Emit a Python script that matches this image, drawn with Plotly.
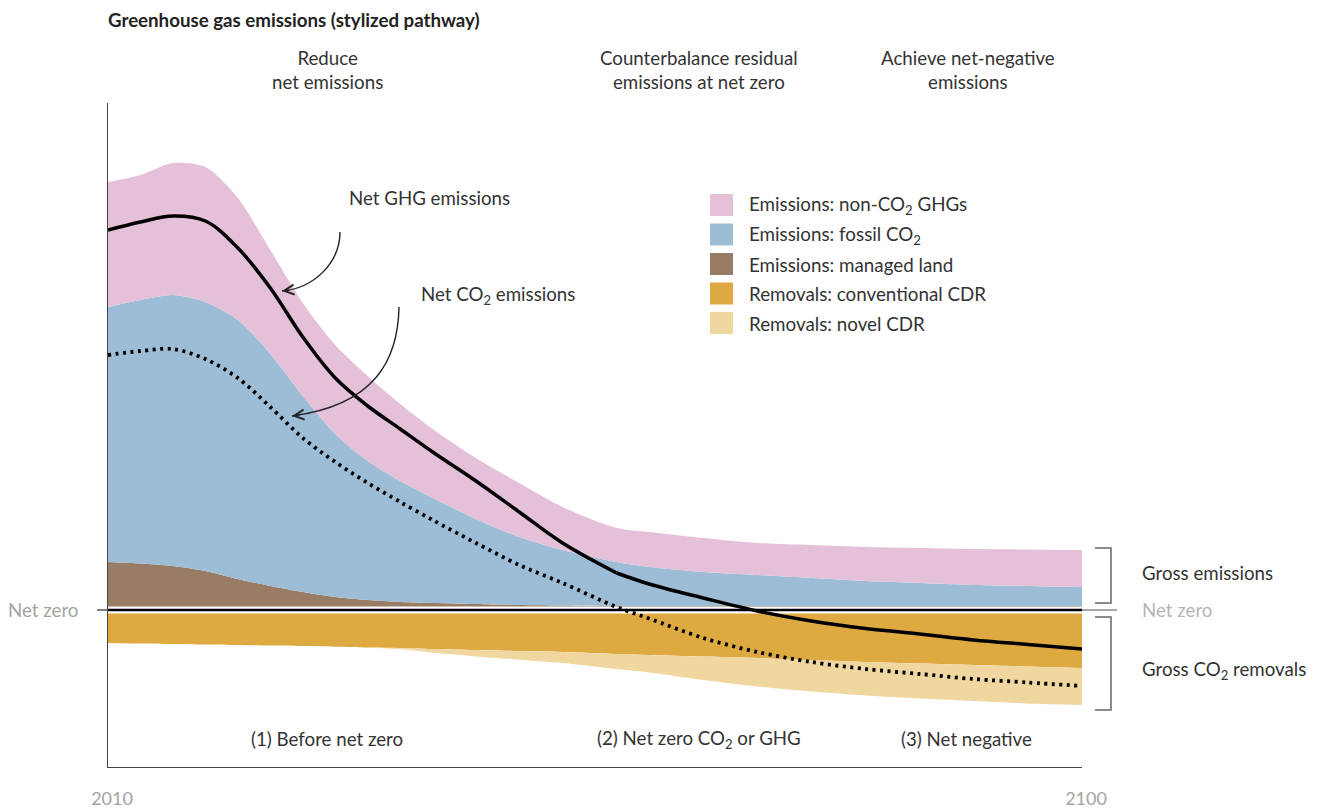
import plotly.graph_objects as go

# ---------------- data (stylized pathway) ----------------
years = [2010, 2013, 2016, 2019, 2022, 2025, 2028, 2031, 2034, 2037, 2040, 2044,
         2048, 2052, 2057, 2060, 2065, 2070, 2075, 2080, 2085, 2090, 2095, 2100]

land_emissions = [4.8, 4.65, 4.4, 3.9, 3.1, 2.4, 1.8, 1.3, 1.0, 0.8, 0.7, 0.6,
                  0.5, 0.45, 0.4, 0.4, 0.4, 0.4, 0.4, 0.4, 0.4, 0.4, 0.4, 0.4]
fossil_co2 = [25.5, 26.35, 27.1, 26.9, 25.9, 23.2, 19.6, 16.3, 13.9, 12.1, 10.5, 8.5,
              6.8, 5.55, 4.4, 3.9, 3.4, 3.1, 2.8, 2.5, 2.3, 2.1, 2.0, 1.9]
non_co2_ghg = [12.5, 12.5, 13.2, 13.5, 12.2, 10.4, 9.3, 8.9, 8.5, 7.7, 6.9, 6.1,
               5.4, 4.3, 3.4, 3.5, 3.4, 3.2, 3.3, 3.4, 3.5, 3.6, 3.65, 3.7]
conventional_cdr = [-3.3, -3.35, -3.4, -3.45, -3.5, -3.55, -3.6, -3.67, -3.75, -3.82, -3.9, -4.0,
                    -4.1, -4.2, -4.4, -4.5, -4.65, -4.8, -5.0, -5.2, -5.35, -5.5, -5.65, -5.8]
novel_cdr = [0, 0, 0, 0, 0, 0, 0, 0, 0, -0.1, -0.35, -0.64,
             -0.87, -1.1, -1.5, -1.75, -2.35, -2.85, -3.15, -3.35, -3.5, -3.6, -3.7, -3.7]
net_ghg = [38.0, 38.8, 39.4, 38.9, 36.2, 32.2, 27.3, 23.2, 20.4, 18.1, 15.8, 12.9,
           9.8, 6.7, 3.7, 2.6, 1.2, -0.1, -1.1, -1.85, -2.4, -3.0, -3.45, -3.9]
net_co2 = [25.5, 25.9, 26.1, 25.1, 23.2, 20.3, 17.2, 14.8, 12.7, 10.8, 9.0, 6.7,
           4.5, 2.7, 0.3, -0.85, -2.8, -4.2, -5.2, -5.9, -6.4, -6.9, -7.25, -7.6]
ghg_kink_year = 2057

legend_names = ["Emissions: non-CO<sub>2</sub> GHGs", "Emissions: fossil CO<sub>2</sub>",
                "Emissions: managed land", "Removals: conventional CDR", "Removals: novel CDR"]
x_tick_labels = ["2010", "2100"]
phase_titles = ["Reduce<br>net emissions", "Counterbalance residual<br>emissions at net zero",
                "Achieve net-negative<br>emissions"]
phase_labels = ["(1) Before net zero", "(2) Net zero CO<sub>2</sub> or GHG", "(3) Net negative"]

# ---------------- style ----------------
PINK = "#E4C1D8"
BLUE = "#9DBCD6"
BROWN = "#987C63"
ORANGE = "#DEA940"
SAND = "#F0D7A0"
legend_colors = [PINK, BLUE, BROWN, ORANGE, SAND]
TXT = "#333333"
GREY = "#A3A3A3"
FONT = "Lato, 'Open Sans', sans-serif"
FS = 18.7

# plot area in pixels (for placing decorations in paper coordinates)
L, R, T, B = 108, 1082, 103, 767
W, H = 1317, 809


def fx(p):
    return (p - L) / (R - L)


def fy(p):
    return (B - p) / (B - T)


fig = go.Figure()

spl = dict(width=0, shape="spline", smoothing=0.8)
for name, vals, col in [(legend_names[2], land_emissions, BROWN),
                        (legend_names[1], fossil_co2, BLUE),
                        (legend_names[0], non_co2_ghg, PINK)]:
    fig.add_trace(go.Scatter(x=years, y=vals, stackgroup="pos", mode="lines", line=spl,
                             fillcolor=col, name=name, showlegend=False))
for name, vals, col in [(legend_names[3], conventional_cdr, ORANGE),
                        (legend_names[4], novel_cdr, SAND)]:
    fig.add_trace(go.Scatter(x=years, y=vals, stackgroup="neg", mode="lines", line=spl,
                             fillcolor=col, name=name, showlegend=False))

# net-zero line (white gap + black line)
zx = [years[0], years[-1]]
fig.add_trace(go.Scatter(x=zx, y=[0, 0], mode="lines", line=dict(color="white", width=7),
                         showlegend=False, hoverinfo="skip"))
fig.add_trace(go.Scatter(x=zx, y=[0, 0], mode="lines", line=dict(color="black", width=2.5),
                         showlegend=False, hoverinfo="skip"))

# net GHG (solid, with a kink) and net CO2 (dotted)
k = years.index(ghg_kink_year)
for xs, ys in [(years[:k + 1], net_ghg[:k + 1]), (years[k:], net_ghg[k:])]:
    fig.add_trace(go.Scatter(x=xs, y=ys, mode="lines", name="Net GHG emissions",
                             line=dict(color="black", width=3.5, shape="spline", smoothing=1.0),
                             showlegend=False))
fig.add_trace(go.Scatter(x=years, y=net_co2, mode="lines", name="Net CO2 emissions",
                         line=dict(color="black", width=3.8, dash="3px,4.5px", shape="spline",
                                   smoothing=0.9),
                         showlegend=False))

shapes = []
annotations = []


def txt(text, x, y, size=FS, color=TXT, xanchor="center", yanchor="middle", bold=False):
    annotations.append(dict(text=("<b>%s</b>" % text) if bold else text, x=fx(x), y=fy(y),
                            xref="paper", yref="paper", showarrow=False, xanchor=xanchor,
                            yanchor=yanchor, font=dict(family=FONT, size=size, color=color)))


# title
txt("Greenhouse gas emissions (stylized pathway)", 106, 20, size=18.7, color="#222222",
    xanchor="left", bold=True)
# phase titles / labels
for t, cx in zip(phase_titles, [327, 699, 968]):
    txt(t, cx, 70)
for t, cx in zip(phase_labels, [327, 699, 966]):
    txt(t, cx, 739)

# line labels
txt("Net GHG emissions", 347, 198, xanchor="left")
txt("Net CO<sub>2</sub> emissions", 419, 295, xanchor="left")


# curved pointer arrows
def curve(p0, p1, p2, p3):
    pts = [p0, p1, p2, p3]
    s = "M %f,%f C %f,%f %f,%f %f,%f" % tuple(v for p in pts for v in (fx(p[0]), fy(p[1])))
    shapes.append(dict(type="path", path=s, xref="paper", yref="paper",
                       line=dict(color="#222222", width=1.4), layer="above"))
    annotations.append(dict(x=fx(p3[0]), y=fy(p3[1]), xref="paper", yref="paper", text="",
                            showarrow=True, arrowhead=5, arrowsize=1.4, arrowwidth=1.4,
                            arrowcolor="#222222", ax=9, ay=-1, standoff=0))


curve((340, 232), (340, 262), (315, 288), (282, 291))
curve((399, 307), (398, 360), (375, 405), (292, 416))

# legend (manual)
for i, (name, col) in enumerate(zip(legend_names, legend_colors)):
    cy = 205 + i * 29.5
    shapes.append(dict(type="rect", xref="paper", yref="paper", x0=fx(710), x1=fx(733),
                       y0=fy(cy - 11), y1=fy(cy + 11), fillcolor=col, line=dict(width=0)))
    txt(name, 747, cy, size=18.8, xanchor="left")

# net zero extensions
shapes.append(dict(type="line", xref="paper", yref="y", x0=fx(97), x1=0, y0=0, y1=0,
                   line=dict(color="#555555", width=1.5)))
shapes.append(dict(type="line", xref="paper", yref="y", x0=1, x1=fx(1117), y0=0, y1=0,
                   line=dict(color="#8A8A8A", width=1.5)))
txt("Net zero", 80, 610, color=GREY, xanchor="right")
txt("Net zero", 1140, 610, color="#B5B5B5", xanchor="left")

# brackets
for top, bot in [(548, 603), (617, 710)]:
    p = "M %f,%f L %f,%f L %f,%f L %f,%f" % (fx(1095), fy(top), fx(1111), fy(top),
                                             fx(1111), fy(bot), fx(1095), fy(bot))
    shapes.append(dict(type="path", path=p, xref="paper", yref="paper",
                       line=dict(color="#666666", width=1.5)))
txt("Gross emissions", 1140, 573, xanchor="left")
txt("Gross CO<sub>2</sub> removals", 1140, 670, xanchor="left")

fig.update_layout(
    width=W, height=H,
    margin=dict(l=L, r=W - R, t=T, b=H - B, pad=0, autoexpand=False),
    paper_bgcolor="white", plot_bgcolor="white",
    font=dict(family=FONT, size=FS, color=TXT),
    showlegend=False,
    shapes=shapes, annotations=annotations,
    xaxis=dict(range=[2010, 2100], showgrid=False, zeroline=False, showline=True,
               linecolor="#444444", linewidth=1.2, tickvals=[2010, 2100], ticktext=x_tick_labels,
               ticks="", tickfont=dict(family=FONT, size=18, color=GREY),
               ticklabelstandoff=15, ticklabelshift=4, automargin=False),
    yaxis=dict(range=[-15.7, 50.7], showgrid=False, zeroline=False, showline=True,
               linecolor="#444444", linewidth=1.2, showticklabels=False, ticks="",
               automargin=False),
)

fig.write_html("out.html", config={"displayModeBar": False},
               post_script="document.body.style.margin='0';")
